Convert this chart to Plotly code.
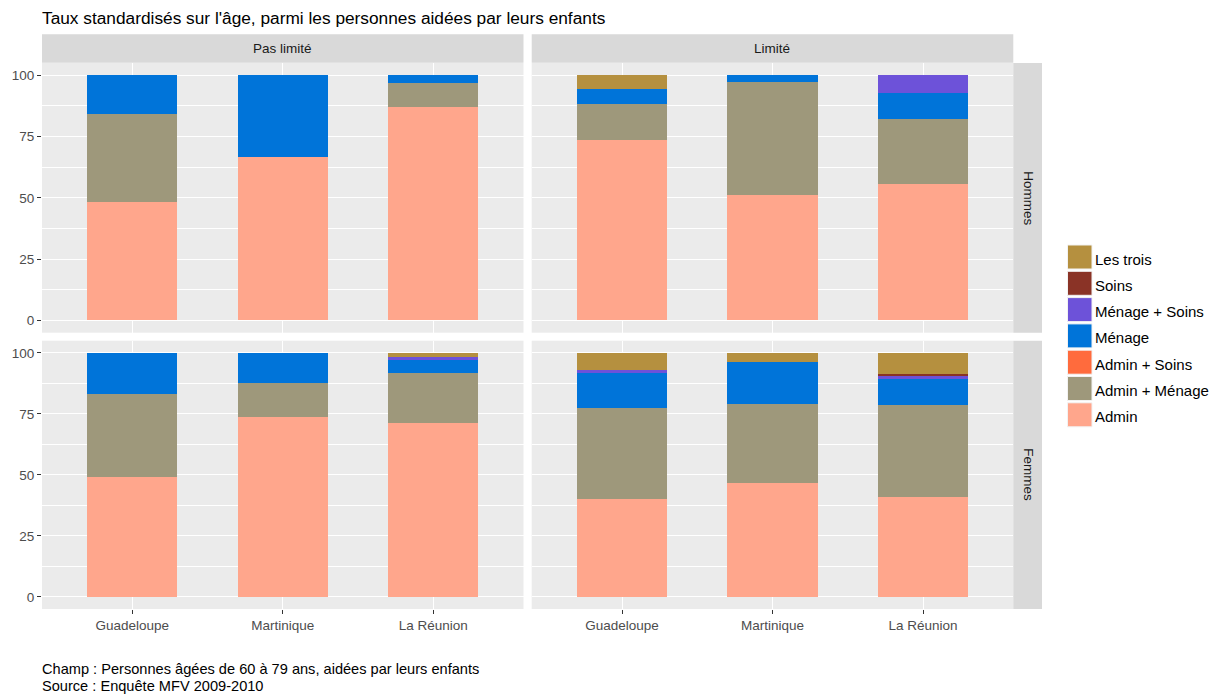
import plotly.graph_objects as go

W, H = 1214, 696

regions = ["Guadeloupe", "Martinique", "La Réunion"]
series = ["Admin", "Admin + Ménage", "Admin + Soins", "Ménage", "Ménage + Soins", "Soins", "Les trois"]
colors = ["#FFA68C", "#9E987B", "#FF6B3D", "#0074D9", "#6D52D9", "#8A3326", "#B5903F"]
y_ticks = [0, 25, 50, 75, 100]

# Hommes, Pas limité
hommes_pas_limite = {
    "Admin": [48.4, 66.8, 86.9],
    "Admin + Ménage": [35.6, 0, 9.8],
    "Admin + Soins": [0, 0, 0],
    "Ménage": [16.0, 33.2, 3.3],
    "Ménage + Soins": [0, 0, 0],
    "Soins": [0, 0, 0],
    "Les trois": [0, 0, 0],
}
# Hommes, Limité
hommes_limite = {
    "Admin": [73.8, 51.2, 55.7],
    "Admin + Ménage": [14.6, 45.9, 26.3],
    "Admin + Soins": [0, 0, 0],
    "Ménage": [5.9, 2.9, 10.6],
    "Ménage + Soins": [0, 0, 7.4],
    "Soins": [0, 0, 0],
    "Les trois": [5.7, 0, 0],
}
# Femmes, Pas limité
femmes_pas_limite = {
    "Admin": [49.2, 73.8, 71.4],
    "Admin + Ménage": [34.0, 13.9, 20.5],
    "Admin + Soins": [0, 0, 0],
    "Ménage": [16.8, 12.3, 5.1],
    "Ménage + Soins": [0, 0, 1.5],
    "Soins": [0, 0, 0],
    "Les trois": [0, 0, 1.5],
}
# Femmes, Limité
femmes_limite = {
    "Admin": [40.2, 46.7, 41.0],
    "Admin + Ménage": [37.3, 32.5, 37.8],
    "Admin + Soins": [0, 0, 0],
    "Ménage": [14.4, 17.0, 10.3],
    "Ménage + Soins": [0.9, 0, 1.9],
    "Soins": [0, 0, 0.5],
    "Les trois": [7.2, 3.8, 8.5],
}

col_labels = ["Pas limité", "Limité"]
row_labels = ["Hommes", "Femmes"]

FONT = "Liberation Sans, Arial, sans-serif"
TICK_SIZE = 13.5
STRIP_SIZE = 13.5


def px(x):
    return x / W


def py(y):
    return 1 - y / H


# panel geometry (pixels)
col_x = [(42, 523.5), (531.7, 1013.3)]
row_y = [(63, 332.7), (340.7, 609)]
strip_top = (34.3, 62.7)
strip_right = (1013.3, 1042)

panels = [
    (0, 0, hommes_pas_limite),
    (0, 1, hommes_limite),
    (1, 0, femmes_pas_limite),
    (1, 1, femmes_limite),
]

fig = go.Figure()
layout = dict(
    width=W, height=H,
    margin=dict(l=0, r=0, t=0, b=0),
    paper_bgcolor="white",
    plot_bgcolor="#EBEBEB",
    barmode="stack",
    showlegend=False,
    font=dict(family=FONT, size=12, color="#4D4D4D"),
)

for i, (r, c, data) in enumerate(panels):
    n = i + 1
    xa = "x" if n == 1 else f"x{n}"
    ya = "y" if n == 1 else f"y{n}"
    for s, col in zip(series, colors):
        fig.add_trace(go.Bar(
            x=regions, y=data[s], name=s, width=0.6,
            marker=dict(color=col, line=dict(width=0)),
            xaxis=xa, yaxis=ya, showlegend=False,
            hovertemplate="%{x}<br>" + s + " : %{y}<extra></extra>",
        ))
    xkey = "xaxis" if n == 1 else f"xaxis{n}"
    ykey = "yaxis" if n == 1 else f"yaxis{n}"
    layout[xkey] = dict(
        domain=[px(col_x[c][0]), px(col_x[c][1])],
        anchor=ya, type="category", range=[-0.6, 2.6],
        showgrid=True, gridcolor="white", gridwidth=1.1,
        showticklabels=(r == 1), ticks="outside" if r == 1 else "",
        ticklen=4, tickcolor="#333333", tickwidth=1,
        tickfont=dict(family=FONT, size=TICK_SIZE, color="#4D4D4D"),
        showline=False, zeroline=False, fixedrange=True,
    )
    layout[ykey] = dict(
        domain=[py(row_y[r][1]), py(row_y[r][0])],
        anchor=xa, range=[-5, 105],
        tickvals=y_ticks, ticktext=[str(v) for v in y_ticks],
        showgrid=True, gridcolor="white", gridwidth=1.1,
        minor=dict(tickvals=[12.5, 37.5, 62.5, 87.5], showgrid=True,
                   gridcolor="white", gridwidth=0.5, ticks=""),
        showticklabels=(c == 0), ticks="outside" if c == 0 else "",
        ticklen=4, tickcolor="#333333", tickwidth=1,
        tickfont=dict(family=FONT, size=TICK_SIZE, color="#4D4D4D"),
        showline=False, zeroline=False, fixedrange=True,
    )

fig.update_layout(**layout)

shapes = []
annotations = []

# top strips
for c, lab in enumerate(col_labels):
    shapes.append(dict(type="rect", xref="paper", yref="paper",
                       x0=px(col_x[c][0]), x1=px(col_x[c][1]),
                       y0=py(strip_top[1]), y1=py(strip_top[0]),
                       fillcolor="#D9D9D9", line=dict(width=0), layer="below"))
    annotations.append(dict(xref="paper", yref="paper",
                            x=px((col_x[c][0] + col_x[c][1]) / 2),
                            y=py((strip_top[0] + strip_top[1]) / 2),
                            text=lab, showarrow=False, xanchor="center", yanchor="middle",
                            font=dict(family=FONT, size=STRIP_SIZE, color="#1A1A1A")))
# right strips
for r, lab in enumerate(row_labels):
    shapes.append(dict(type="rect", xref="paper", yref="paper",
                       x0=px(strip_right[0]), x1=px(strip_right[1]),
                       y0=py(row_y[r][1]), y1=py(row_y[r][0]),
                       fillcolor="#D9D9D9", line=dict(width=0), layer="below"))
    annotations.append(dict(xref="paper", yref="paper",
                            x=px((strip_right[0] + strip_right[1]) / 2),
                            y=py((row_y[r][0] + row_y[r][1]) / 2),
                            text=lab, showarrow=False, textangle=90,
                            xanchor="center", yanchor="middle",
                            font=dict(family=FONT, size=STRIP_SIZE, color="#1A1A1A")))

# legend (drawn manually, top item = last series)
leg_x0, leg_x1 = 1067.5, 1092
leg_top, leg_step, leg_key = 245, 26.3, 24
for k, (s, col) in enumerate(zip(series[::-1], colors[::-1])):
    y0 = leg_top + k * leg_step
    shapes.append(dict(type="rect", xref="paper", yref="paper",
                       x0=px(leg_x0), x1=px(leg_x1), y0=py(y0 + leg_key), y1=py(y0),
                       fillcolor=col, line=dict(width=1, color="#F2F2F2")))
    annotations.append(dict(xref="paper", yref="paper", x=px(1092.5), y=py(y0 + leg_key / 2 + 2),
                            text=s, showarrow=False, xanchor="left", yanchor="middle",
                            font=dict(family=FONT, size=15, color="black")))

# title
annotations.append(dict(xref="paper", yref="paper", x=px(40), y=py(18),
                        text="Taux standardisés sur l'âge, parmi les personnes aidées par leurs enfants",
                        showarrow=False, xanchor="left", yanchor="middle",
                        font=dict(family=FONT, size=17.3, color="black")))
# caption
annotations.append(dict(xref="paper", yref="paper", x=px(40), y=py(669),
                        text="Champ : Personnes âgées de 60 à 79 ans, aidées par leurs enfants",
                        showarrow=False, xanchor="left", yanchor="middle",
                        font=dict(family=FONT, size=14.6, color="black")))
annotations.append(dict(xref="paper", yref="paper", x=px(40), y=py(686),
                        text="Source : Enquête MFV 2009-2010",
                        showarrow=False, xanchor="left", yanchor="middle",
                        font=dict(family=FONT, size=14.6, color="black")))

fig.update_layout(shapes=shapes, annotations=annotations)

fig.write_html("out.html", config={"displayModeBar": False},
               post_script="document.body.style.margin='0';document.body.style.overflow='hidden';")
